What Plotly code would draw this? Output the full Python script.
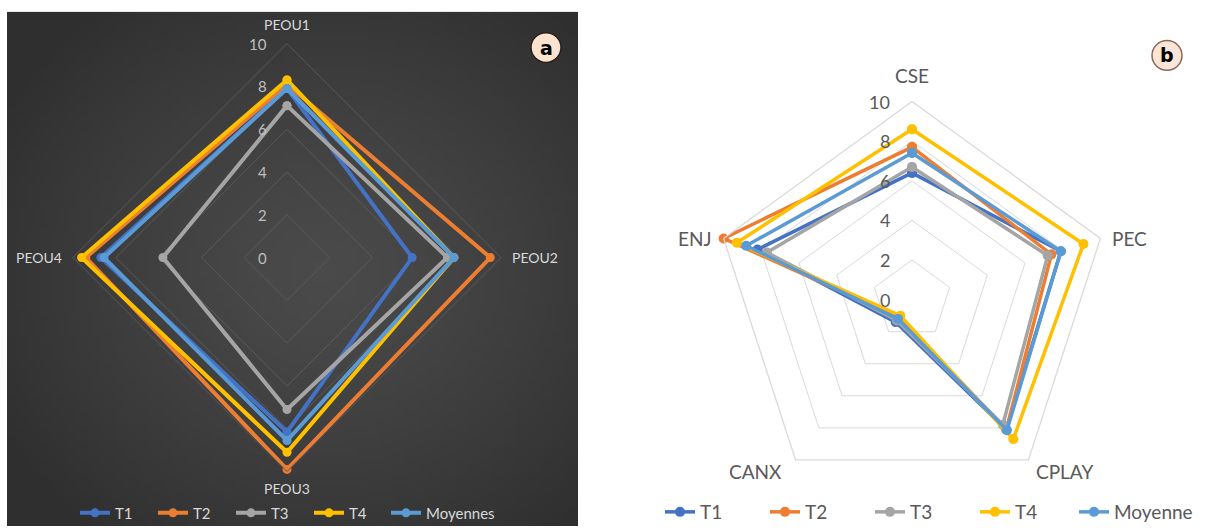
import base64, struct, zlib, math
import plotly.graph_objects as go

# ---------------- data ----------------
cats_a = ["PEOU1", "PEOU2", "PEOU3", "PEOU4"]
t1_a = [7.9, 5.85, 8.15, 8.7]
t2_a = [8.1, 9.5, 9.9, 9.4]
t3_a = [7.1, 7.5, 7.1, 5.8]
t4_a = [8.3, 7.8, 9.1, 9.6]
moy_a = [7.9, 7.8, 8.55, 8.55]

cats_b = ["CSE", "PEC", "CPLAY", "CANX", "ENJ"]
t1_b = [6.4, 7.9, 8.1, 1.4, 8.2]
t2_b = [7.7, 7.4, 8.1, 1.1, 10.0]
t3_b = [6.7, 7.2, 7.8, 1.3, 7.7]
t4_b = [8.6, 9.1, 8.7, 1.0, 9.3]
moy_b = [7.4, 7.9, 8.15, 1.2, 8.8]

names_a = ["T1", "T2", "T3", "T4", "Moyennes"]
names_b = ["T1", "T2", "T3", "T4", "Moyenne"]
radial_ticks = [0, 2, 4, 6, 8, 10]

colors = ["#4472C4", "#ED7D31", "#A5A5A5", "#FFC000", "#5B9BD5"]

W, H = 1209, 531
FONT = "Lato"


def px_x(x):
    return x / W


def px_y(y):
    return 1 - y / H


def gradient_png(w, h):
    rows = []
    for j in range(h):
        row = bytearray([0])
        for i in range(w):
            dx = (i - w * 0.55) / (w * 0.65)
            dy = (j - h * 0.5) / (h * 0.65)
            d = min(1.0, math.sqrt(dx * dx + dy * dy))
            v = int(round(0x4a - (0x4a - 0x2f) * d ** 1.3))
            row += bytes([v, v, v])
        rows.append(bytes(row))
    raw = b"".join(rows)

    def chunk(t, data):
        c = struct.pack(">I", len(data)) + t + data
        return c + struct.pack(">I", zlib.crc32(t + data) & 0xffffffff)

    png = b"\x89PNG\r\n\x1a\n"
    png += chunk(b"IHDR", struct.pack(">IIBBBBB", w, h, 8, 2, 0, 0, 0))
    png += chunk(b"IDAT", zlib.compress(raw, 9))
    png += chunk(b"IEND", b"")
    return "data:image/png;base64," + base64.b64encode(png).decode()


fig = go.Figure()

series_a = [t1_a, t2_a, t3_a, t4_a, moy_a]
series_b = [t1_b, t2_b, t3_b, t4_b, moy_b]

for k, (name, vals, col) in enumerate(zip(names_a, series_a, colors)):
    fig.add_trace(go.Scatterpolar(
        r=vals + vals[:1], theta=cats_a + cats_a[:1], name=name,
        mode="lines+markers", line=dict(color=col, width=4),
        marker=dict(size=9, color=col), subplot="polar",
        legend="legend" if k < 4 else "legend3"))

for k, (name, vals, col) in enumerate(zip(names_b, series_b, colors)):
    fig.add_trace(go.Scatterpolar(
        r=vals + vals[:1], theta=cats_b + cats_b[:1], name=name,
        mode="lines+markers", line=dict(color=col, width=3.5),
        marker=dict(size=10, color=col), subplot="polar2",
        legend="legend2" if k < 4 else "legend4"))

# geometry (pixels): centre and radius of the value-10 outline
ca, ra = (287, 260), 216
cb, rb = (912, 302.5), 200


def cat_labels(cats, c, r, color, size, vgap_top, vgap_bot, hgap):
    out = []
    n = len(cats)
    for i, name in enumerate(cats):
        ang = 2 * math.pi * i / n
        sx, sy = math.sin(ang), -math.cos(ang)
        vx, vy = c[0] + r * sx, c[1] + r * sy
        if abs(sx) < 0.2:
            xa = "center"
            if sy < 0:
                ya, y = "bottom", vy - vgap_top
            else:
                ya, y = "top", vy + vgap_bot
            x = vx
        else:
            xa = "left" if sx > 0 else "right"
            x = vx + (hgap if sx > 0 else -hgap)
            if sy > 0.5:
                ya, y = "top", vy - 2
                x = vx + (4 if sx > 0 else -10)
            else:
                ya, y = "middle", vy
        out.append(dict(text=name, x=px_x(x), y=px_y(y), xref="paper", yref="paper",
                        xanchor=xa, yanchor=ya, showarrow=False,
                        font=dict(size=size, color=color, family=FONT)))
    return out


annotations = []
annotations += cat_labels(cats_a, ca, ra, "#d9d9d9", 14, 9, 7, 7)
annotations += cat_labels(cats_b, cb, rb, "#595959", 19, 13, 13, 8)

# radial tick labels, to the left of the vertical axis
for v in radial_ticks:
    annotations.append(dict(text=str(v), x=px_x(ca[0] - 18), y=px_y(ca[1] - ra * v / 10),
                            xref="paper", yref="paper", xanchor="right", yanchor="middle",
                            showarrow=False, font=dict(size=15, color="#bfbfbf", family=FONT)))
    annotations.append(dict(text=str(v), x=px_x(cb[0] - 20), y=px_y(cb[1] - rb * v / 10),
                            xref="paper", yref="paper", xanchor="right", yanchor="middle",
                            showarrow=False, font=dict(size=18, color="#595959", family=FONT)))

annotations += [
    dict(text="<b>a</b>", x=px_x(546), y=px_y(48), xref="paper", yref="paper",
         xanchor="center", yanchor="middle", showarrow=False,
         font=dict(size=19, color="black", family="DejaVu Sans")),
    dict(text="<b>b</b>", x=px_x(1167), y=px_y(56), xref="paper", yref="paper",
         xanchor="center", yanchor="middle", showarrow=False,
         font=dict(size=19, color="black", family="DejaVu Sans")),
]

axis_common = dict(rotation=90, direction="clockwise", showgrid=False,
                   showticklabels=False, ticks="")

leg_a = dict(orientation="h", xanchor="left", yanchor="middle", y=px_y(518),
             bgcolor="rgba(0,0,0,0)", font=dict(color="#d9d9d9", size=15, family=FONT))
leg_b = dict(orientation="h", xanchor="left", yanchor="middle", y=px_y(517),
             bgcolor="rgba(0,0,0,0)", font=dict(color="#595959", size=19, family=FONT))

fig.update_layout(
    width=W, height=H, margin=dict(l=0, r=0, t=0, b=0),
    paper_bgcolor="white", plot_bgcolor="white",
    font=dict(family=FONT),
    polar=dict(
        domain=dict(x=[px_x(ca[0] - ra), px_x(ca[0] + ra)],
                    y=[px_y(ca[1] + ra), px_y(ca[1] - ra)]),
        bgcolor="rgba(0,0,0,0)", gridshape="linear",
        angularaxis=dict(**axis_common, showline=True, linecolor="#5a5a5a", linewidth=1),
        radialaxis=dict(range=[0, 10], tickvals=radial_ticks, showline=False,
                        showticklabels=False, gridcolor="#5a5a5a", gridwidth=1,
                        ticks="", angle=90),
    ),
    polar2=dict(
        domain=dict(x=[px_x(cb[0] - rb), px_x(cb[0] + rb)],
                    y=[px_y(cb[1] + rb), px_y(cb[1] - rb)]),
        bgcolor="rgba(0,0,0,0)", gridshape="linear",
        angularaxis=dict(**axis_common, showline=True, linecolor="#d9d9d9", linewidth=1.3),
        radialaxis=dict(range=[0, 10], tickvals=radial_ticks, showline=False,
                        showticklabels=False, gridcolor="#d9d9d9", gridwidth=1.3,
                        ticks="", angle=90),
    ),
    legend=dict(leg_a, x=px_x(75), entrywidth=33),
    legend3=dict(leg_a, x=px_x(386)),
    legend2=dict(leg_b, x=px_x(660), entrywidth=60),
    legend4=dict(leg_b, x=px_x(1074)),
    images=[dict(source=gradient_png(96, 96), xref="paper", yref="paper",
                 x=px_x(7), y=px_y(12), sizex=px_x(578) - px_x(7),
                 sizey=px_y(12) - px_y(531), sizing="stretch", layer="below")],
    shapes=[
        dict(type="circle", xref="paper", yref="paper",
             x0=px_x(531), x1=px_x(561), y0=px_y(63), y1=px_y(33),
             fillcolor="#fde3cf", line=dict(color="#2a2018", width=1.5)),
        dict(type="circle", xref="paper", yref="paper",
             x0=px_x(1152), x1=px_x(1182), y0=px_y(71), y1=px_y(41),
             fillcolor="#fce4d6", line=dict(color="#8a6a58", width=1.5)),
    ],
    annotations=annotations,
)

fig.write_html("out.html", config={"displayModeBar": False},
               post_script="document.body.style.margin='0px';")
